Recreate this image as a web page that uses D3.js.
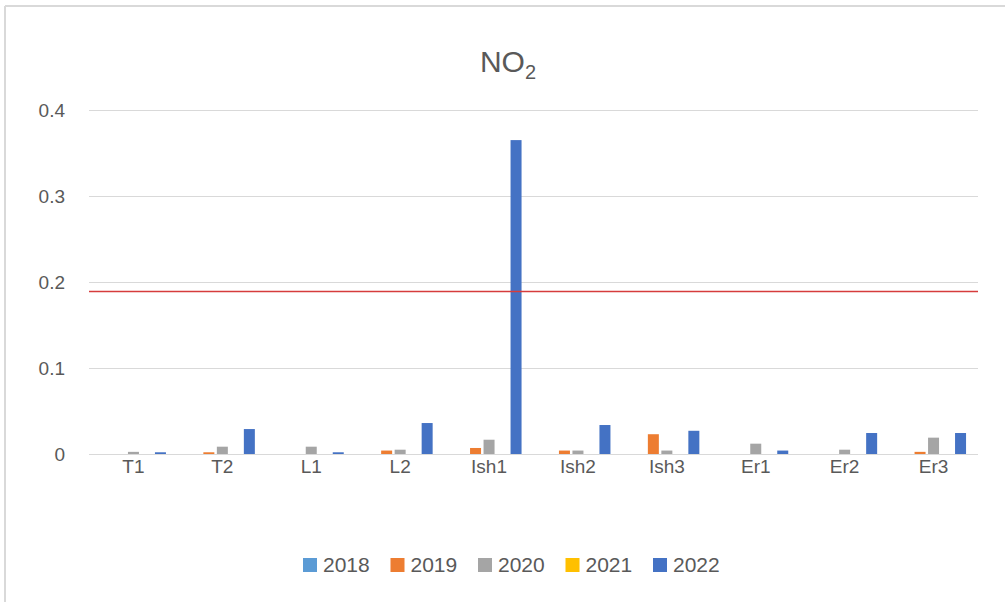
<!DOCTYPE html>
<html>
<head>
<meta charset="utf-8">
<script src="https://cdn.jsdelivr.net/npm/d3@7"></script>
<style>
  html, body { margin: 0; padding: 0; background: #fff; }
  svg { display: block; font-family: "Liberation Sans", Arial, sans-serif; }
</style>
</head>
<body>
<svg id="chart" width="1005" height="602"></svg>
<script>
// sites along the x axis
var sites = ['T1', 'T2', 'L1', 'L2', 'Ish1', 'Ish2', 'Ish3', 'Er1', 'Er2', 'Er3'];
var years = ['2018', '2019', '2020', '2021', '2022'];

// NO2 per site, one array per year
var v2018 = [0, 0, 0, 0, 0, 0, 0, 0, 0, 0];
var v2019 = [0, 0.002, 0, 0.004, 0.007, 0.004, 0.023, 0, 0, 0.0025];
var v2020 = [0.0025, 0.0085, 0.0085, 0.005, 0.0166, 0.004, 0.004, 0.012, 0.005, 0.019];
var v2021 = [0, 0, 0, 0, 0, 0, 0, 0, 0, 0];
var v2022 = [0.002, 0.029, 0.002, 0.036, 0.365, 0.0337, 0.027, 0.004, 0.0244, 0.0244];

var limitValue = 0.189;
var yTicks = [0, 0.1, 0.2, 0.3, 0.4];
var colors = ['#5B9BD5', '#ED7D31', '#A5A5A5', '#FFC000', '#4472C4'];

var series = [v2018, v2019, v2020, v2021, v2022];

var svg = d3.select('#chart');
var plot = { left: 89, right: 978, top: 110, bottom: 454 };

// chart frame (top and left edges only show in the picture)
svg.append('line')
  .attr('x1', 5).attr('x2', 1005).attr('y1', 6).attr('y2', 6)
  .attr('stroke', '#d9d9d9').attr('stroke-width', 2);
svg.append('line')
  .attr('x1', 5).attr('x2', 5).attr('y1', 6).attr('y2', 602)
  .attr('stroke', '#d9d9d9').attr('stroke-width', 2);

var x = d3.scaleBand()
  .domain(sites)
  .range([plot.left, plot.right]);

var y = d3.scaleLinear()
  .domain([0, 0.4])
  .range([plot.bottom, plot.top]);

var barStep = 13.5;
var barWidth = 11;

// gridlines
svg.append('g')
  .selectAll('line')
  .data(yTicks)
  .join('line')
  .attr('x1', plot.left).attr('x2', plot.right)
  .attr('y1', function(d) { return Math.round(y(d)) + 0.5; })
  .attr('y2', function(d) { return Math.round(y(d)) + 0.5; })
  .attr('stroke', '#d9d9d9')
  .attr('stroke-width', 1);

// y labels
svg.append('g')
  .selectAll('text')
  .data(yTicks)
  .join('text')
  .attr('x', 65)
  .attr('y', function(d) { return y(d); })
  .attr('dy', '0.35em')
  .attr('text-anchor', 'end')
  .attr('fill', '#595959')
  .style('font-size', '19px')
  .text(function(d) { return d === 0 ? '0' : d3.format('.1f')(d); });

// bars
var bars = [];
series.forEach(function(vals, si) {
  vals.forEach(function(v, ci) {
    bars.push({ site: sites[ci], idx: si, value: v });
  });
});

svg.append('g')
  .selectAll('rect')
  .data(bars.filter(function(d) { return d.value > 0; }))
  .join('rect')
  .attr('x', function(d) {
    return x(d.site) + x.bandwidth() / 2 + (d.idx - 2) * barStep - barWidth / 2;
  })
  .attr('y', function(d) { return y(d.value); })
  .attr('width', barWidth)
  .attr('height', function(d) { return y(0) - y(d.value); })
  .attr('fill', function(d) { return colors[d.idx]; });

// baseline
svg.append('line')
  .attr('x1', plot.left).attr('x2', plot.right)
  .attr('y1', Math.round(y(0)) + 0.5).attr('y2', Math.round(y(0)) + 0.5)
  .attr('stroke', '#d9d9d9');

// limit line
svg.append('line')
  .attr('x1', plot.left).attr('x2', plot.right)
  .attr('y1', y(limitValue)).attr('y2', y(limitValue))
  .attr('stroke', '#D63C3C')
  .attr('stroke-width', 1.5);

// x labels
svg.append('g')
  .selectAll('text')
  .data(sites)
  .join('text')
  .attr('x', function(d) { return x(d) + x.bandwidth() / 2; })
  .attr('y', 473)
  .attr('text-anchor', 'middle')
  .attr('fill', '#595959')
  .style('font-size', '19px')
  .text(function(d) { return d; });

// title
var title = svg.append('text')
  .attr('x', 508)
  .attr('y', 72)
  .attr('text-anchor', 'middle')
  .attr('fill', '#595959')
  .style('font-size', '30px');
title.append('tspan').text('NO');
title.append('tspan').attr('dy', 7).style('font-size', '20px').text('2');

// legend
var legend = svg.append('g')
  .selectAll('g')
  .data(years)
  .join('g')
  .attr('transform', function(d, i) { return 'translate(' + (303 + i * 87.5) + ',558)'; });

legend.append('rect')
  .attr('width', 14).attr('height', 14)
  .attr('fill', function(d, i) { return colors[i]; });

legend.append('text')
  .attr('x', 20)
  .attr('y', 7)
  .attr('dy', '0.35em')
  .attr('fill', '#595959')
  .style('font-size', '21px')
  .text(function(d) { return d; });
</script>
</body>
</html>
